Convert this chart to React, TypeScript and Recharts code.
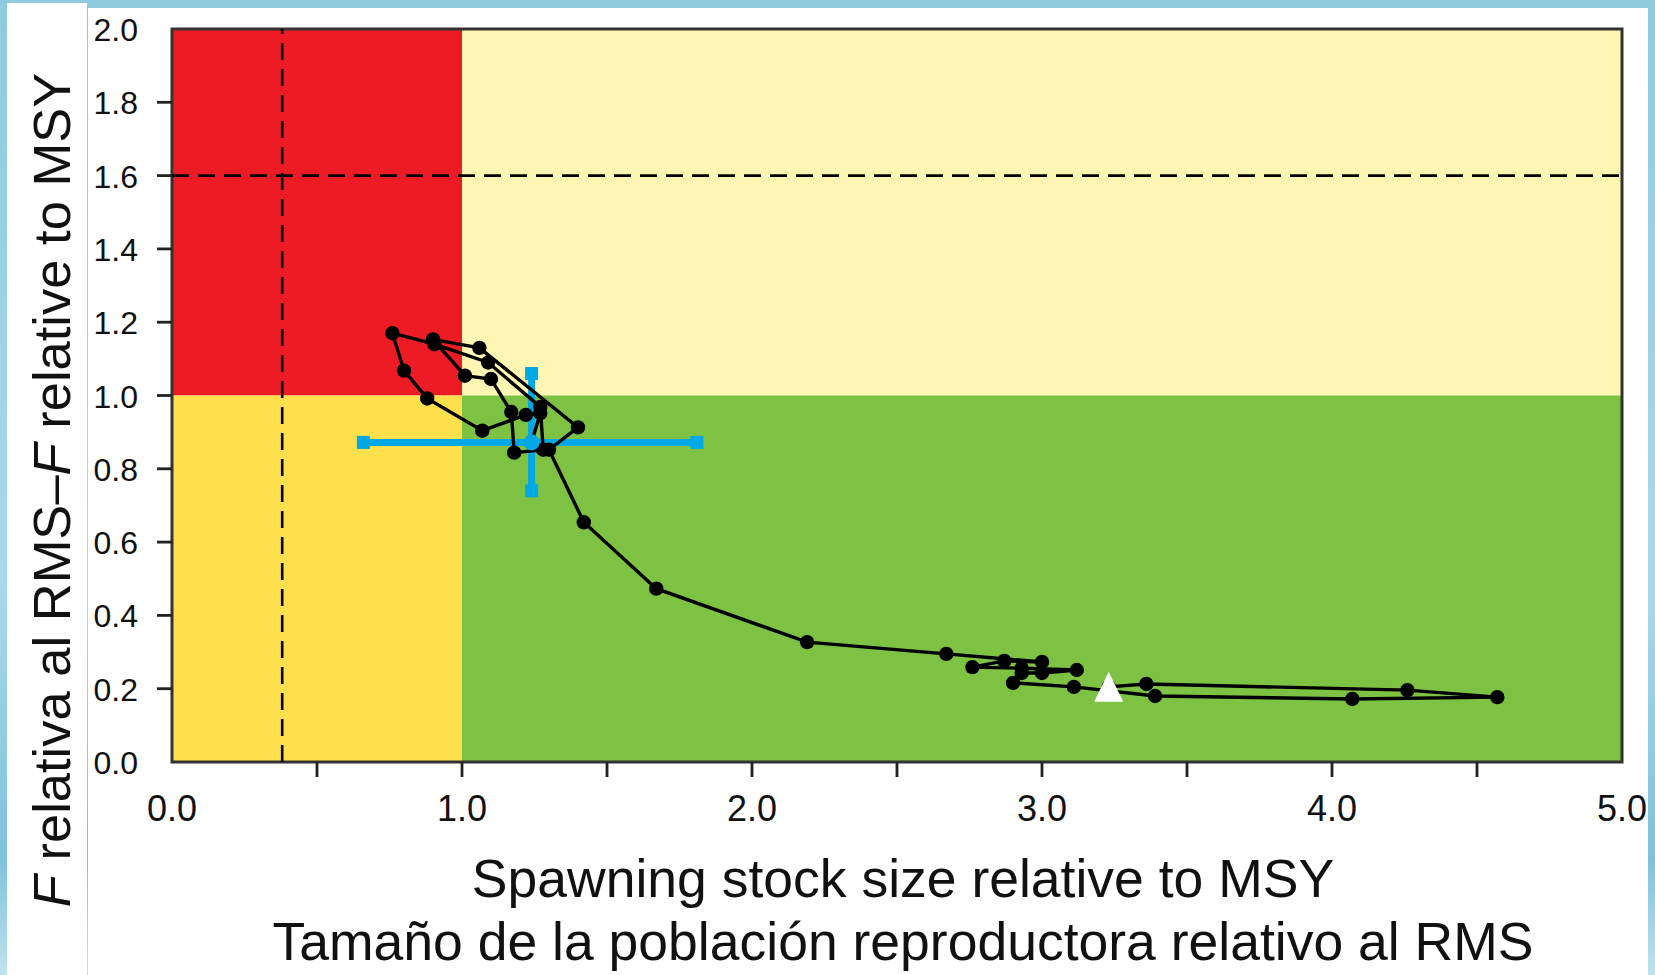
import React from 'react'
import { ScatterChart, Scatter, XAxis, YAxis, ReferenceArea, ReferenceLine } from 'recharts'

// axis ticks
const xTicks = [0, 0.5, 1, 1.5, 2, 2.5, 3, 3.5, 4, 4.5, 5]
const yTicks = [0, 0.2, 0.4, 0.6, 0.8, 1.0, 1.2, 1.4, 1.6, 1.8, 2.0]

// trajectory: spawning stock size rel. to MSY (x) and F rel. to F_MSY (y), first year first
const sRel = [
    3.23, 3.36, 4.26, 4.57, 4.07, 3.39, 3.11, 2.90, 2.93, 3.00,
    3.12, 2.93, 2.76, 2.87, 3.00, 2.67, 2.19, 1.67, 1.42, 1.30,
    1.40, 1.06, 0.90, 1.01, 1.10, 1.17, 1.18, 1.28, 1.27, 1.09,
    0.905, 0.76, 0.80, 0.88, 1.07, 1.22, 1.27, 1.24,
]
const fRel = [
    0.205, 0.213, 0.196, 0.177, 0.172, 0.180, 0.205, 0.216, 0.243, 0.243,
    0.251, 0.256, 0.259, 0.276, 0.273, 0.295, 0.327, 0.473, 0.654, 0.852,
    0.913, 1.130, 1.153, 1.054, 1.045, 0.955, 0.844, 0.852, 0.969, 1.090,
    1.140, 1.170, 1.068, 0.992, 0.904, 0.947, 0.952, 0.872,
]

// reference points
const limitS = 0.38
const limitF = 1.6
const targetS = 1.0
const targetF = 1.0

// last-year confidence intervals
const sInterval = [0.66, 1.81]
const fInterval = [0.74, 1.06]

const trajectory = sRel.map((x, i) => ({ x, y: fRel[i] }))
const firstYear = [trajectory[0]]
const lastYear = [trajectory[trajectory.length - 1]]
const last = lastYear[0]
const caps = [
    { x: sInterval[0], y: last.y },
    { x: sInterval[1], y: last.y },
    { x: last.x, y: fInterval[0] },
    { x: last.x, y: fInterval[1] },
]

const FONT = '"Liberation Sans", Arial, sans-serif'
const BLUE = '#00A8E6'

const XTick = ({ x, y, payload }: any) => {
    const v = payload.value
    const edge = v === 0 || v === 5
    const labelled = Number.isInteger(v)
    return (
        <g>
            {!edge && <line x1={x} x2={x} y1={y} y2={y + 15} stroke="#222" strokeWidth={2.8} />}
            {labelled && (
                <text x={x} y={y + 59} textAnchor="middle" fontSize={36} fontFamily={FONT} fill="#111">
                    {v.toFixed(1)}
                </text>
            )}
        </g>
    )
}

const YTick = ({ x, y, payload }: any) => {
    const v = payload.value
    const edge = v === 0 || v === 2
    return (
        <g>
            {!edge && <line x1={x} x2={x - 15} y1={y} y2={y} stroke="#222" strokeWidth={2.8} />}
            <text x={x - 34} y={y + 12} textAnchor="end" fontSize={32} fontFamily={FONT} fill="#111">
                {v.toFixed(1)}
            </text>
        </g>
    )
}

const XTitle = ({ viewBox }: any) => {
    const cx = viewBox.x + viewBox.width / 2 + 6
    return (
        <text textAnchor="middle" fontSize={53.5} fontFamily={FONT} fill="#111">
            <tspan x={cx} y={897}>Spawning stock size relative to MSY</tspan>
            <tspan x={cx} y={960}>Tamaño de la población reproductora relativo al RMS</tspan>
        </text>
    )
}

const YTitle = () => (
    <text
        x={70}
        y={490}
        transform="rotate(-90 70 490)"
        textAnchor="middle"
        fontSize={52.5}
        fontFamily={FONT}
        fill="#111"
    >
        <tspan fontStyle="italic">F</tspan> relativa al RMS–<tspan fontStyle="italic">F</tspan> relative to MSY
    </text>
)

const dot = ({ cx, cy }: any) => <circle cx={cx} cy={cy} r={7.2} fill="#000" />
const triangle = ({ cx, cy }: any) => (
    <polygon points={`${cx},${cy - 15} ${cx - 14.5},${cy + 15} ${cx + 14.5},${cy + 15}`} fill="#fff" />
)
const capSquare = ({ cx, cy }: any) => <rect x={cx - 6.5} y={cy - 6.5} width={13} height={13} fill={BLUE} />
const centre = ({ cx, cy }: any) => <circle cx={cx} cy={cy} r={8} fill={BLUE} />

export default function App() {
    return (
        <div
            style={{
                position: 'absolute',
                left: 0,
                top: 0,
                width: 1655,
                height: 975,
                overflow: 'hidden',
                background: 'linear-gradient(180deg, #8ECBDD 0%, #A9D9E8 60%, #7FC2DA 88%, #BFE3EE 100%)',
            }}
        >
            <div style={{ position: 'absolute', left: 7, top: 3, width: 80, height: 972, background: '#fff' }} />
            <div style={{ position: 'absolute', left: 88, top: 8, width: 1560, height: 967, background: '#fff' }} />
            <div style={{ position: 'absolute', left: 0, top: 0 }}>
                <ScatterChart width={1655} height={975} margin={{ top: 29, right: 33, bottom: 153, left: 92 }}>
                    <XAxis
                        type="number"
                        dataKey="x"
                        domain={[0, 5]}
                        ticks={xTicks}
                        interval={0}
                        allowDataOverflow
                        axisLine={false}
                        tickLine={false}
                        tickSize={0}
                        tickMargin={0}
                        height={60}
                        tick={<XTick />}
                        label={<XTitle />}
                    />
                    <YAxis
                        type="number"
                        dataKey="y"
                        domain={[0, 2]}
                        ticks={yTicks}
                        interval={0}
                        allowDataOverflow
                        axisLine={false}
                        tickLine={false}
                        tickSize={0}
                        tickMargin={0}
                        width={80}
                        tick={<YTick />}
                        label={<YTitle />}
                    />
                    <ReferenceArea x1={0} x2={targetS} y1={targetF} y2={2} fill="#ED1C24" fillOpacity={1} stroke="none" />
                    <ReferenceArea x1={targetS} x2={5} y1={targetF} y2={2} fill="#FFF6B4" fillOpacity={1} stroke="none" />
                    <ReferenceArea x1={0} x2={targetS} y1={0} y2={targetF} fill="#FEE04D" fillOpacity={1} stroke="none" />
                    <ReferenceArea x1={targetS} x2={5} y1={0} y2={targetF} fill="#7DC242" fillOpacity={1} stroke="none" />
                    <ReferenceLine x={limitS} stroke="#000" strokeWidth={2.6} strokeDasharray="17 9" />
                    <ReferenceLine y={limitF} stroke="#000" strokeWidth={2.6} strokeDasharray="17 9" />
                    <ReferenceArea x1={0} x2={5} y1={0} y2={2} fill="none" stroke="#333" strokeWidth={3} />
                    <Scatter
                        data={trajectory}
                        line={{ stroke: '#000', strokeWidth: 3.4 }}
                        lineType="joint"
                        shape={dot}
                        isAnimationActive={false}
                    />
                    <Scatter data={firstYear} shape={triangle} isAnimationActive={false} />
                    <ReferenceLine
                        segment={[{ x: sInterval[0], y: last.y }, { x: sInterval[1], y: last.y }]}
                        stroke={BLUE}
                        strokeWidth={7}
                    />
                    <ReferenceLine
                        segment={[{ x: last.x, y: fInterval[0] }, { x: last.x, y: fInterval[1] }]}
                        stroke={BLUE}
                        strokeWidth={7}
                    />
                    <Scatter data={caps} shape={capSquare} isAnimationActive={false} />
                    <Scatter data={lastYear} shape={centre} isAnimationActive={false} />
                </ScatterChart>
            </div>
        </div>
    )
}
